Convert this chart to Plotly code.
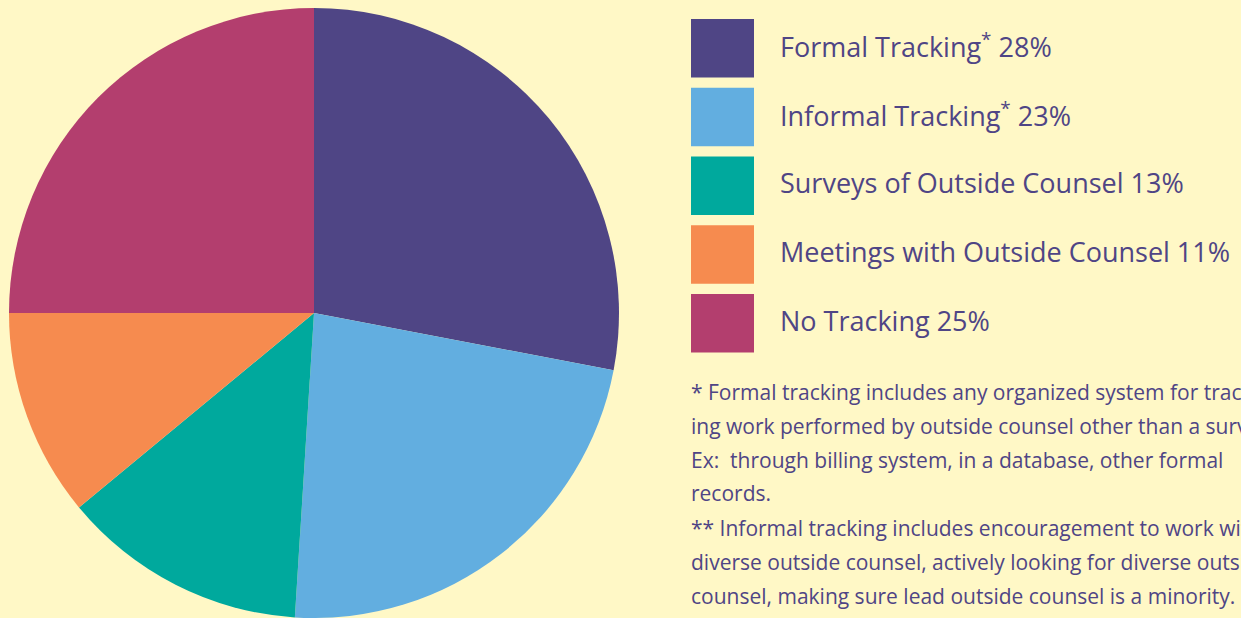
import plotly.graph_objects as go

W, H = 1241, 618

categories = ["Formal Tracking", "Informal Tracking", "Surveys of Outside Counsel",
              "Meetings with Outside Counsel", "No Tracking"]
values = [28, 23, 13, 11, 25]
markers = ["<sup>*</sup>", "<sup>*</sup>", "", "", ""]
colors = ["#4F4585", "#62AEE0", "#00A99D", "#F68B4F", "#B33E6E"]

footnote_lines = [
    "* Formal tracking includes any organized system for track-",
    "ing work performed by outside counsel other than a survey.",
    "Ex:  through billing system, in a database, other formal",
    "records.",
    "** Informal tracking includes encouragement to work with",
    "diverse outside counsel, actively looking for diverse outside",
    "counsel, making sure lead outside counsel is a minority.",
]
footnote_y = [392, 426, 460, 493, 528, 562, 596]

bg = "#FFF8C6"
text_color = "#4F4585"
font = "Open Sans"

fig = go.Figure()
fig.add_trace(go.Pie(
    labels=categories,
    values=values,
    marker=dict(colors=colors, line=dict(width=0)),
    sort=False,
    direction="clockwise",
    rotation=0,
    textinfo="none",
    hoverinfo="label+percent",
    showlegend=False,
    domain=dict(x=[9 / W, 619 / W], y=[0, 610 / H]),
))

shapes = []
annotations = []
sq_left, sq_right = 691, 754
top0, step, sq_h = 19, 68.75, 58.5
for i, (cat, val, mk, col) in enumerate(zip(categories, values, markers, colors)):
    top = top0 + i * step
    shapes.append(dict(type="rect", xref="paper", yref="paper",
                       x0=sq_left / W, x1=sq_right / W,
                       y0=1 - (top + sq_h) / H, y1=1 - top / H,
                       fillcolor=col, line=dict(width=0)))
    annotations.append(dict(xref="paper", yref="paper", x=778 / W,
                            y=1 - (top + sq_h / 2 - 3) / H,
                            xanchor="left", yanchor="middle", showarrow=False,
                            text=f"{cat}{mk} {val}%",
                            font=dict(family=font, size=27, color=text_color)))

for line, yy in zip(footnote_lines, footnote_y):
    annotations.append(dict(xref="paper", yref="paper", x=689 / W, y=1 - yy / H,
                            xanchor="left", yanchor="middle", showarrow=False,
                            text=line,
                            font=dict(family=font, size=21, color=text_color)))

fig.update_layout(
    width=W, height=H,
    margin=dict(l=0, r=0, t=0, b=0),
    paper_bgcolor=bg, plot_bgcolor=bg,
    shapes=shapes, annotations=annotations,
)

fig.write_html(
    "out.html",
    config={"displayModeBar": False},
    post_script="document.body.style.margin='0';document.body.style.overflow='hidden';document.body.style.background='" + bg + "';",
)
